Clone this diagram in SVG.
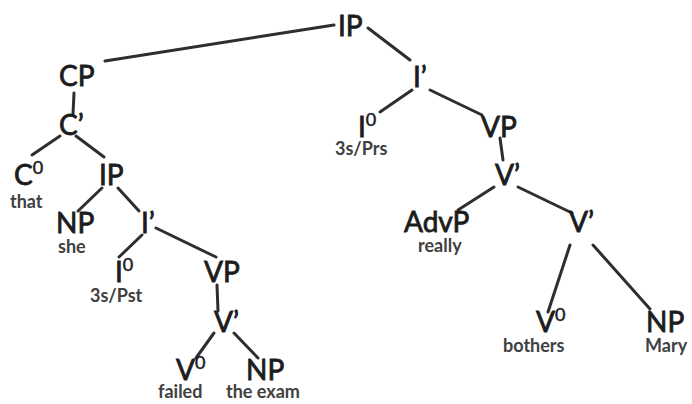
<svg xmlns="http://www.w3.org/2000/svg" width="692" height="404" viewBox="0 0 692 404">
  <style>
    .cat { font-family: Lato, "Open Sans", "Liberation Sans", sans-serif; font-size: 28px; fill: #1c1c1c; stroke: #1c1c1c; stroke-width: 0.8px; }
    .sup { font-size: 18px; stroke-width: 0.5px; }
    .word { font-family: Lato, "Open Sans", "Liberation Sans", sans-serif; font-size: 18px; font-weight: bold; fill: #404040; }
    .edge { stroke: #2e2e2e; stroke-width: 3; stroke-linecap: round; fill: none; }
  </style>
  <rect width="692" height="404" fill="#ffffff"/>

  <!-- branches of the tree -->
  <g id="edges" class="edge">
    <line x1="334" y1="25" x2="105" y2="61"/>
    <line x1="368" y1="28" x2="410" y2="60"/>
    <line x1="74" y1="93" x2="73" y2="114"/>
    <line x1="60" y1="136" x2="32" y2="155"/>
    <line x1="76" y1="136" x2="104" y2="157"/>
    <line x1="102" y1="188" x2="78" y2="211"/>
    <line x1="118" y1="188" x2="139" y2="211"/>
    <line x1="142" y1="235" x2="119" y2="257"/>
    <line x1="156" y1="228" x2="216" y2="257"/>
    <line x1="217" y1="285" x2="218" y2="311"/>
    <line x1="214" y1="333" x2="196" y2="358"/>
    <line x1="234" y1="333" x2="258" y2="358"/>
    <line x1="412" y1="90" x2="380" y2="112"/>
    <line x1="430" y1="90" x2="482" y2="115"/>
    <line x1="500" y1="138" x2="503" y2="160"/>
    <line x1="494" y1="187" x2="458" y2="210"/>
    <line x1="518" y1="187" x2="572" y2="213"/>
    <line x1="570" y1="245" x2="548" y2="312"/>
    <line x1="593" y1="245" x2="650" y2="309"/>
  </g>

  <g id="ip-root"><text class="cat" x="338" y="36">IP</text></g>
  <g id="cp"><text class="cat" x="59" y="86">CP</text></g>
  <g id="c-bar"><text class="cat" x="59" y="135">C’</text></g>
  <g id="c-head"><text class="cat" x="14" y="185">C<tspan class="sup" dy="-11">0</tspan></text><text class="word" x="10" y="208">that</text></g>
  <g id="ip-embedded"><text class="cat" x="99" y="185">IP</text></g>
  <g id="np-subject"><text class="cat" x="56" y="233">NP</text><text class="word" x="58" y="253">she</text></g>
  <g id="i-bar-embedded"><text class="cat" x="141" y="233">I’</text></g>
  <g id="i-head-embedded"><text class="cat" x="115" y="282">I<tspan class="sup" dy="-11">0</tspan></text><text class="word" x="90" y="302">3s/Pst</text></g>
  <g id="vp-embedded"><text class="cat" x="204" y="282">VP</text></g>
  <g id="v-bar-embedded"><text class="cat" x="214" y="332">V’</text></g>
  <g id="v-head-embedded"><text class="cat" x="176" y="380">V<tspan class="sup" dy="-11">0</tspan></text><text class="word" x="158" y="398">failed</text></g>
  <g id="np-object-embedded"><text class="cat" x="246" y="380">NP</text><text class="word" x="226" y="398">the exam</text></g>

  <g id="i-bar-matrix"><text class="cat" x="413" y="87">I’</text></g>
  <g id="i-head-matrix"><text class="cat" x="358" y="137">I<tspan class="sup" dy="-11">0</tspan></text><text class="word" x="335" y="155">3s/Prs</text></g>
  <g id="vp-matrix"><text class="cat" x="481" y="137">VP</text></g>
  <g id="v-bar-upper"><text class="cat" x="495" y="185">V’</text></g>
  <g id="advp"><text class="cat" x="404" y="232">AdvP</text><text class="word" x="418" y="252">really</text></g>
  <g id="v-bar-lower"><text class="cat" x="569" y="232">V’</text></g>
  <g id="v-head-matrix"><text class="cat" x="536" y="332">V<tspan class="sup" dy="-11">0</tspan></text><text class="word" x="503" y="352">bothers</text></g>
  <g id="np-object-matrix"><text class="cat" x="646" y="332">NP</text><text class="word" x="645" y="352">Mary</text></g>
</svg>
